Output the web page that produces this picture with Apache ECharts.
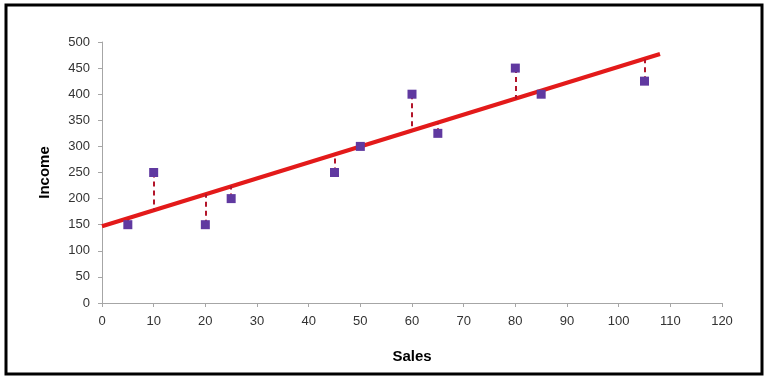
<!DOCTYPE html>
<html lang="en">
<head>
    <meta charset="UTF-8">
    <title>Income vs Sales</title>
    <style>
        html, body { margin: 0; padding: 0; background: #fff; }
    </style>
</head>
<body>
<div id="main" style="width: 768px;height:383px;"></div>
<script src="https://cdn.jsdelivr.net/npm/echarts@6/dist/echarts.min.js"></script>
<script>
    // data
    var sales  = [5, 10, 20, 25, 45, 50, 60, 65, 80, 85, 105];
    var income = [150, 250, 150, 200, 250, 300, 400, 325, 450, 400, 425];
    // value of the fitted line at each sales value
    var fitted = [163, 178, 209, 224, 285, 300, 330, 345, 391, 406, 467];
    // ends of the red trend line
    var trendX = [0, 108];
    var trendY = [147, 477];

    var myChart = echarts.init(document.getElementById('main'));

    var points = sales.map(function (x, i) { return [x, income[i]]; });
    var trend = trendX.map(function (x, i) { return [x, trendY[i]]; });
    var residuals = sales.map(function (x, i) {
        return [{ coord: [x, income[i]] }, { coord: [x, fitted[i]] }];
    });

    var font = 'Liberation Sans';

    var option = {
        backgroundColor: '#fff',
        animation: false,
        grid: { left: 102, right: 46, top: 42, bottom: 80 },
        graphic: [{
            type: 'rect',
            shape: { x: 6, y: 5, width: 756, height: 369 },
            style: { fill: 'none', stroke: '#000', lineWidth: 3 },
            z: 100
        }],
        xAxis: {
            type: 'value',
            min: 0, max: 120, interval: 10,
            name: 'Sales',
            nameLocation: 'middle',
            nameGap: 46,
            nameTextStyle: { fontFamily: font, fontSize: 15, fontWeight: 'bold', color: '#000' },
            axisLine: { lineStyle: { color: '#a6a6a6', width: 1 } },
            axisTick: { show: true, length: 4, lineStyle: { color: '#a6a6a6' } },
            axisLabel: { fontFamily: font, fontSize: 13, color: '#333', margin: 12 },
            splitLine: { show: false }
        },
        yAxis: {
            type: 'value',
            min: 0, max: 500, interval: 50,
            name: 'Income',
            nameLocation: 'middle',
            nameGap: 50,
            nameRotate: 90,
            nameTextStyle: { fontFamily: font, fontSize: 15, fontWeight: 'bold', color: '#000' },
            axisLine: { show: true, lineStyle: { color: '#a6a6a6', width: 1 } },
            axisTick: { show: true, length: 4, lineStyle: { color: '#a6a6a6' } },
            axisLabel: { fontFamily: font, fontSize: 13, color: '#333', margin: 12 },
            splitLine: { show: false }
        },
        series: [
            {
                name: 'Trend',
                type: 'line',
                data: trend,
                symbol: 'none',
                lineStyle: { color: '#e31a1a', width: 4 },
                z: 2,
                markLine: {
                    silent: true,
                    symbol: ['none', 'none'],
                    label: { show: false },
                    lineStyle: { color: '#b3152a', width: 2, type: [5, 4] },
                    data: residuals
                }
            },
            {
                name: 'Data',
                type: 'scatter',
                data: points,
                symbol: 'rect',
                symbolSize: 9,
                itemStyle: { color: '#6039a0', opacity: 1 },
                z: 5
            }
        ]
    };

    myChart.setOption(option);
</script>
</body>
</html>
